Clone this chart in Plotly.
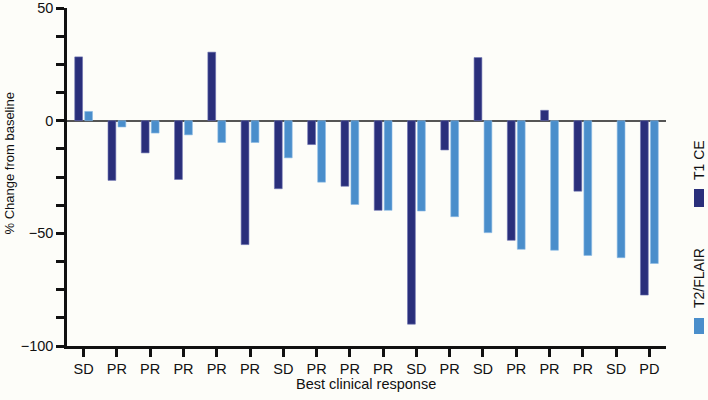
import plotly.graph_objects as go

# ---- data ----
responses = ["SD", "PR", "PR", "PR", "PR", "PR", "SD", "PR", "PR", "PR",
             "SD", "PR", "SD", "PR", "PR", "PR", "SD", "PD"]
t1_ce = [28.3, -26.5, -14.3, -26.1, 30.4, -55.0, -30.2, -10.6, -29.1, -39.8,
         -90.3, -13.0, 28.0, -53.1, 4.6, -31.3, None, -77.4]
t2_flair = [4.1, -2.8, -5.5, -6.3, -9.7, -9.7, -16.5, -27.3, -37.2, -39.8,
            -40.1, -42.6, -49.7, -57.1, -57.5, -59.8, -60.8, -63.4]
y_tick_vals = [50, 37.5, 25, 12.5, 0, -12.5, -25, -37.5, -50, -62.5, -75, -87.5, -100]
y_tick_text = ["50", "", "", "", "0", "", "", "", "\u221250", "", "", "", "\u2212100"]

DARK = "#2a2f7b"
LIGHT = "#4a8ecb"
BG = "#fdfdf9"

W, H = 708, 400
L, R, T, B = 67, 42, 8, 54
PW, PH = W - L - R, H - T - B


def px(x):
    return (x - L) / PW


def py(y):
    return (H - B - y) / PH


xs = list(range(len(responses)))

fig = go.Figure()
fig.add_trace(go.Bar(x=xs, y=t1_ce, name="T1 CE",
                     marker=dict(color=DARK, line=dict(width=0.6, color="#6a70b0"))))
fig.add_trace(go.Bar(x=xs, y=t2_flair, name="T2/FLAIR",
                     marker=dict(color=LIGHT, line=dict(width=0.6, color="#8cbbe6"))))

FAM = "Liberation Sans, Arial, sans-serif"
tick_font = dict(family=FAM, size=14.5, color="#111")

fig.update_layout(
    width=W, height=H,
    margin=dict(l=L, r=R, t=T, b=B, pad=0),
    paper_bgcolor=BG, plot_bgcolor=BG,
    barmode="group", bargap=0.4, bargroupgap=0.22,
    showlegend=False,
    font=tick_font,
    xaxis=dict(
        range=[-0.5, len(responses) - 0.5],
        tickvals=xs, ticktext=responses,
        showline=True, linecolor="#111", linewidth=2.5,
        ticks="outside", ticklen=8, tickwidth=2.5, tickcolor="#111",
        showgrid=False, zeroline=False, automargin=False,
        tickfont=tick_font,
    ),
    yaxis=dict(
        range=[-100, 50],
        tickvals=y_tick_vals, ticktext=y_tick_text,
        showline=True, linecolor="#111", linewidth=2.5,
        ticks="outside", ticklen=8, tickwidth=2.5, tickcolor="#111",
        showgrid=False, automargin=False,
        zeroline=True, zerolinecolor="#555", zerolinewidth=1.5,
        tickfont=tick_font,
    ),
)

# axis titles
fig.add_annotation(text="% Change from baseline", xref="paper", yref="paper",
                   x=px(8.5), y=py(164), textangle=-90, showarrow=False,
                   xanchor="center", yanchor="middle",
                   font=dict(family=FAM, size=13, color="#111"))
fig.add_annotation(text="Best clinical response", xref="paper", yref="paper",
                   x=px(366), y=py(384), showarrow=False,
                   xanchor="center", yanchor="middle",
                   font=dict(family=FAM, size=14.5, color="#111"))

# custom vertical legend
legend_font = dict(family=FAM, size=14, color="#111")
legend_items = [("T1 CE", DARK, 160, 189, 207), ("T2/FLAIR", LIGHT, 278, 318, 334)]
for label, color, ty, s0, s1 in legend_items:
    fig.add_annotation(text=label, xref="paper", yref="paper",
                       x=px(699), y=py(ty), textangle=-90, showarrow=False,
                       xanchor="center", yanchor="middle", font=legend_font)
    fig.add_shape(type="rect", xref="paper", yref="paper",
                  x0=px(694), x1=px(704), y0=py(s1), y1=py(s0),
                  fillcolor=color, line=dict(width=0))

fig.write_html("out.html",
               config={"displayModeBar": False},
               post_script="document.body.style.margin='0';document.body.style.overflow='hidden';")
